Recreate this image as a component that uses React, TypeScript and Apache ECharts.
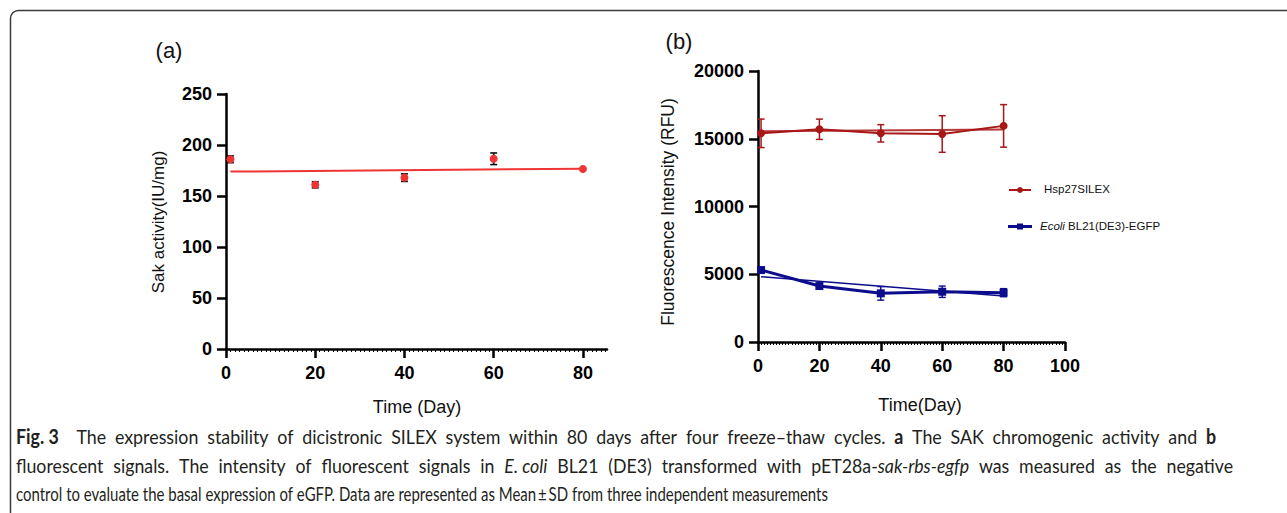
import React, { useEffect, useRef } from 'react';
import * as echarts from 'echarts';

// ---------- data: panel (a) ----------
const daysA = [1, 20, 40, 60, 80];
const sakMean = [186, 161, 168, 186.5, 176.5];
const sakSD = [3.3, 3, 3.7, 5.7, 0];
const sakFitX = [1, 80];
const sakFitY = [173.9, 176.8];
const xTicksA = [0, 20, 40, 60, 80];

// ---------- data: panel (b) ----------
const daysB = [1, 20, 40, 60, 80];
const hspMean = [15400, 15700, 15400, 15350, 15950];
const hspSD = [1050, 750, 640, 1350, 1570];
const hspFitX = [1, 80];
const hspFitY = [15560, 15690];
const ecoliMean = [5310, 4130, 3590, 3710, 3640];
const ecoliSD = [150, 150, 500, 420, 300];
const ecoliFitX = [1, 80];
const ecoliFitY = [4820, 3400];

const legendNames = ['Hsp27SILEX', 'Ecoli', ' BL21(DE3)-EGFP'];

const captionLines: [string, string][][] = [
  [
    ['Fig.\u00a03', 'b'],
    ['  The expression stability of dicistronic SILEX system within 80 days after four freeze\u2013thaw cycles. ', 'n'],
    ['a', 'b'],
    [' The SAK chromogenic activity and ', 'n'],
    ['b', 'b'],
  ],
  [
    ['fluorescent signals. The intensity of fluorescent signals in ', 'n'],
    ['E.\u00a0coli', 'i'],
    [' BL21 (DE3) transformed with pET28a-', 'n'],
    ['sak-rbs-egfp', 'i'],
    [' was measured as the negative', 'n'],
  ],
  [['control to evaluate the basal expression of eGFP. Data are represented as Mean\u2009\u00b1\u2009SD from three independent measurements', 'n']],
];
const captionWidths = [1200, 1217, 812];
const captionJustify = [true, true, false];
const captionY = [436, 465, 494];

const RED_A = '#ef3434';
const RED_B = '#a81616';
const BLUE_B = '#0c0c8c';
const AX_FONT = '"Liberation Sans", Arial, sans-serif';
const CAP_FONT = 'Lato';
const CAP_SIZE = 20;
const CAP_COLOR = '#231f20';

function errorBars(xi: number, yi: number, xs: number[], m: number[], s: number[], color: string, lw: number, cap: number, z: number) {
  return {
    type: 'custom',
    xAxisIndex: xi,
    yAxisIndex: yi,
    z,
    silent: true,
    data: xs.map((x, i) => [x, m[i], s[i]]),
    encode: { x: 0, y: 1 },
    renderItem: (_p: any, api: any) => {
      const x = api.value(0), mv = api.value(1), sv = api.value(2);
      if (!sv) return { type: 'group', children: [] };
      const t = api.coord([x, mv + sv]);
      const b = api.coord([x, mv - sv]);
      const h = cap / 2;
      const st = { stroke: color, lineWidth: lw };
      return {
        type: 'group',
        children: [
          { type: 'line', shape: { x1: t[0], y1: t[1], x2: b[0], y2: b[1] }, style: st },
          { type: 'line', shape: { x1: t[0] - h, y1: t[1], x2: t[0] + h, y2: t[1] }, style: st },
          { type: 'line', shape: { x1: b[0] - h, y1: b[1], x2: b[0] + h, y2: b[1] }, style: st },
        ],
      };
    },
  };
}

function axisBase() {
  return {
    type: 'value',
    axisLine: { show: true, onZero: false, lineStyle: { color: '#000', width: 2.5 } },
    axisTick: { show: true, inside: false, length: 9, lineStyle: { color: '#000', width: 2.5 } },
    axisLabel: { color: '#000', fontWeight: 'bold', fontSize: 18, fontFamily: AX_FONT, formatter: (v: number) => String(v) },
    splitLine: { show: false },
  };
}

type Piece = [string, string];
type Word = { pieces: Piece[]; gapBefore: number };

function splitWords(segs: Piece[]): Word[] {
  const words: Word[] = [];
  let cur: Piece[] = [];
  let pendingGap = 0;
  const flush = () => {
    if (cur.length) {
      words.push({ pieces: cur, gapBefore: words.length ? pendingGap : 0 });
      cur = [];
      pendingGap = 0;
    }
  };
  for (const [t, s] of segs) {
    let buf = '';
    for (const ch of t) {
      if (ch === ' ') {
        if (buf) { cur.push([buf, s]); buf = ''; }
        flush();
        pendingGap += 1;
      } else {
        buf += ch;
      }
    }
    if (buf) cur.push([buf, s]);
  }
  flush();
  return words;
}

function fontOf(s: string) {
  return `${s === 'i' ? 'italic ' : ''}${s === 'b' ? 'bold ' : ''}${CAP_SIZE}px ${CAP_FONT}`;
}

export default function App() {
  const ref = useRef<HTMLDivElement>(null);
  useEffect(() => {
    if (!ref.current) return;
    const chart = echarts.init(ref.current, null, { renderer: 'svg' });
    const ctx = document.createElement('canvas').getContext('2d') as CanvasRenderingContext2D;
    const mw = (t: string, s: string) => { ctx.font = fontOf(s); return ctx.measureText(t).width; };

    const xA: any = axisBase();
    Object.assign(xA, {
      gridIndex: 0, min: 0, max: 85.4, interval: 20,
      minorTick: { show: true, splitNumber: 20, length: 3, lineStyle: { color: '#000', width: 1 } },
    });
    xA.axisTick = { ...xA.axisTick, customValues: xTicksA };
    xA.axisLabel = { ...xA.axisLabel, customValues: xTicksA, margin: 15 };
    const yA: any = axisBase();
    Object.assign(yA, { gridIndex: 0, min: 0, max: 250, interval: 50 });
    yA.axisLabel = { ...yA.axisLabel, margin: 14 };

    const xB: any = axisBase();
    Object.assign(xB, {
      gridIndex: 1, min: 0, max: 100, interval: 20,
      minorTick: { show: true, splitNumber: 20, length: 3, lineStyle: { color: '#000', width: 1 } },
    });
    xB.axisLabel = { ...xB.axisLabel, margin: 15 };
    const yB: any = axisBase();
    Object.assign(yB, { gridIndex: 1, min: 0, max: 20000, interval: 5000 });
    yB.axisLabel = { ...yB.axisLabel, margin: 14 };

    // caption: base horizontal scale from the last (unjustified) line;
    // justified lines share the extra width between glyph scaling and word spacing
    const rich = {
      b: { fontSize: CAP_SIZE, fontFamily: CAP_FONT, fontWeight: 'bold', fill: CAP_COLOR },
      i: { fontSize: CAP_SIZE, fontFamily: CAP_FONT, fontStyle: 'italic', fill: CAP_COLOR },
    };
    const lineWords = captionLines.map(splitWords);
    const spaceW = mw(' ', 'n');
    const wordsNat = (ws: Word[]) => ws.map((w) => w.pieces.reduce((a, [t, s]) => a + mw(t, s), 0));
    const gapsOf = (ws: Word[]) => ws.reduce((a, w) => a + w.gapBefore, 0);
    const lastIdx = captionLines.length - 1;
    const lastNat = wordsNat(lineWords[lastIdx]).reduce((a, b) => a + b, 0) + gapsOf(lineWords[lastIdx]) * spaceW;
    const sx = captionWidths[lastIdx] / lastNat;
    const captionEls: any[] = [];
    lineWords.forEach((ws, li) => {
      const nat = wordsNat(ws);
      const natSum = nat.reduce((a, b) => a + b, 0);
      const G = gapsOf(ws);
      let sLine = sx;
      let gapUnit = spaceW * sx;
      if (captionJustify[li]) {
        const extra = captionWidths[li] - (natSum * sx + G * spaceW * sx);
        sLine = sx * (1 + (0.6 * extra) / (natSum * sx));
        gapUnit = (captionWidths[li] - natSum * sLine) / Math.max(1, G);
      }
      let x = 16;
      ws.forEach((w, wi) => {
        x += w.gapBefore * gapUnit;
        captionEls.push({
          type: 'text',
          x,
          y: captionY[li],
          scaleX: sLine,
          silent: true,
          style: {
            text: w.pieces.map(([t, s]) => (s === 'n' ? t : `{${s}|${t}}`)).join(''),
            rich,
            fontSize: CAP_SIZE,
            fontFamily: CAP_FONT,
            fill: CAP_COLOR,
            verticalAlign: 'middle',
            textVerticalAlign: 'middle',
          },
        });
        x += nat[wi] * sLine;
      });
    });

    const txt = (x: number, y: number, text: string, size: number, extra: any = {}) => ({
      type: 'text', x, y, ...extra,
      style: {
        text, fontSize: size, fontFamily: AX_FONT, fill: '#111',
        align: 'center', verticalAlign: 'middle', textAlign: 'center', textVerticalAlign: 'middle',
      },
    });

    chart.setOption({
      animation: false,
      grid: [
        { left: 226, top: 94, width: 381, height: 255, containLabel: false, outerBoundsMode: 'none' },
        { left: 758, top: 71, width: 307, height: 271, containLabel: false, outerBoundsMode: 'none' },
      ],
      xAxis: [xA, xB],
      yAxis: [yA, yB],
      series: [
        {
          type: 'line', xAxisIndex: 0, yAxisIndex: 0, z: 2,
          data: sakFitX.map((x, i) => [x, sakFitY[i]]),
          showSymbol: false, symbol: 'none',
          lineStyle: { color: RED_A, width: 2 },
        },
        errorBars(0, 0, daysA, sakMean, sakSD, '#111', 1.6, 7, 3),
        {
          type: 'scatter', xAxisIndex: 0, yAxisIndex: 0, z: 4,
          data: daysA.map((x, i) => [x, sakMean[i]]),
          symbol: 'circle', symbolSize: 8,
          itemStyle: { color: RED_A, opacity: 1 },
        },
        // panel b
        errorBars(1, 1, daysB, hspMean, hspSD, RED_B, 1.5, 7, 3),
        {
          type: 'line', xAxisIndex: 1, yAxisIndex: 1, z: 2,
          data: hspFitX.map((x, i) => [x, hspFitY[i]]),
          symbol: 'none', lineStyle: { color: RED_B, width: 2, opacity: 0.85 },
        },
        {
          type: 'line', xAxisIndex: 1, yAxisIndex: 1, z: 4,
          data: daysB.map((x, i) => [x, hspMean[i]]),
          symbol: 'circle', symbolSize: 8, showSymbol: true,
          itemStyle: { color: RED_B },
          lineStyle: { color: RED_B, width: 2 },
        },
        errorBars(1, 1, daysB, ecoliMean, ecoliSD, BLUE_B, 1.4, 7, 3),
        {
          type: 'line', xAxisIndex: 1, yAxisIndex: 1, z: 2,
          data: ecoliFitX.map((x, i) => [x, ecoliFitY[i]]),
          symbol: 'none', lineStyle: { color: BLUE_B, width: 1.5 },
        },
        {
          type: 'line', xAxisIndex: 1, yAxisIndex: 1, z: 4,
          data: daysB.map((x, i) => [x, ecoliMean[i]]),
          symbol: 'rect', symbolSize: 8, showSymbol: true,
          itemStyle: { color: BLUE_B },
          lineStyle: { color: BLUE_B, width: 3 },
        },
      ],
      graphic: [
        {
          type: 'rect', z: 0, silent: true,
          shape: { x: 10.5, y: 10.5, width: 1400, height: 700, r: 8 },
          style: { fill: 'none', stroke: '#3a3a3a', lineWidth: 1.5 },
        },
        txt(169, 50, '(a)', 22, {}),
        txt(679, 41, '(b)', 22, {}),
        txt(417, 407, 'Time (Day)', 18),
        txt(920, 405, 'Time(Day)', 18),
        txt(158, 222, 'Sak activity(IU/mg)', 17, { rotation: Math.PI / 2 }),
        txt(668, 212, 'Fluorescence Intensity (RFU)', 17.5, { rotation: Math.PI / 2 }),
        // legend
        { type: 'line', shape: { x1: 1009, y1: 190, x2: 1031, y2: 190 }, style: { stroke: RED_B, lineWidth: 2 } },
        { type: 'circle', shape: { cx: 1020, cy: 190, r: 3 }, style: { fill: RED_B } },
        {
          type: 'text', x: 1044, y: 189,
          style: { text: legendNames[0], fontSize: 11.5, fontFamily: AX_FONT, fill: '#111', verticalAlign: 'middle', textVerticalAlign: 'middle' },
        },
        { type: 'line', shape: { x1: 1008, y1: 226.5, x2: 1032, y2: 226.5 }, style: { stroke: BLUE_B, lineWidth: 3 } },
        { type: 'rect', shape: { x: 1017, y: 223.5, width: 6, height: 6 }, style: { fill: BLUE_B } },
        {
          type: 'text', x: 1040, y: 226,
          style: {
            text: `{i|${legendNames[1]}}${legendNames[2]}`,
            rich: { i: { fontSize: 11.5, fontFamily: AX_FONT, fontStyle: 'italic', fill: '#111' } },
            fontSize: 11.5, fontFamily: AX_FONT, fill: '#111', verticalAlign: 'middle', textVerticalAlign: 'middle',
          },
        },
        ...captionEls,
      ],
    });
    return () => chart.dispose();
  }, []);
  return <div ref={ref} style={{ position: 'fixed', left: 0, top: 0, width: 1287, height: 513, background: '#fff' }} />;
}
